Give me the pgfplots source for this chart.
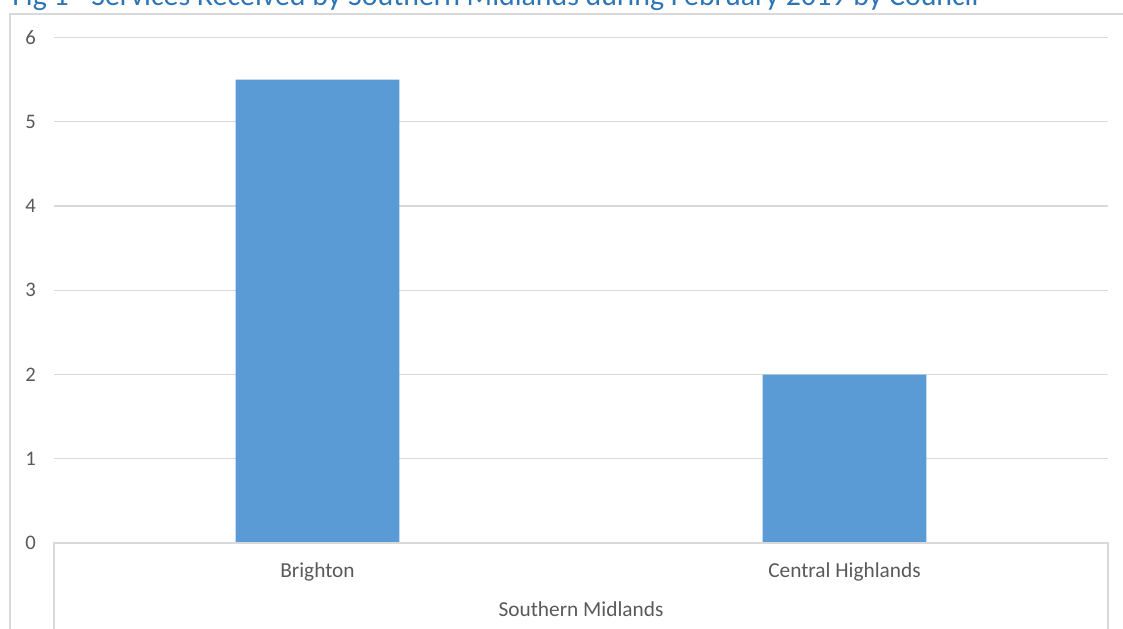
\documentclass[border=0pt]{standalone}
\usepackage{pgfplots}
\pgfplotsset{compat=1.18}
\usepackage{fontspec}
\setmainfont{Carlito}
\definecolor{barblue}{RGB}{91,155,213}
\definecolor{gridgray}{RGB}{217,217,217}
\definecolor{ticktext}{RGB}{89,89,89}
\definecolor{titleblue}{RGB}{46,117,182}

\begin{document}
\begin{tikzpicture}
\useasboundingbox (0pt,0pt) rectangle (842.25pt,471pt);
% chart title and outer frame, cut at the page edge
\begin{scope}
  \clip (0pt,0pt) rectangle (842.25pt,471pt);
  \node[anchor=base west, text=titleblue, font=\fontsize{22.4}{24}\selectfont, inner sep=0pt]
    at (9pt,466.5pt) {Fig 1 - Services Received by Southern Midlands during February 2019 by Council};
  \draw[gridgray, line width=1.1pt] (7.5pt,-4pt) -- (7.5pt,460.5pt) -- (850pt,460.5pt);
\end{scope}
\begin{axis}[
  at={(40.5pt,63.75pt)}, anchor=south west,
  scale only axis,
  width=790.5pt, height=379.125pt,
  xmin=0, xmax=2, ymin=0, ymax=6,
  ytick={0,1,2,3,4,5,6},
  xtick={0.5,1.5},
  xticklabels={Brighton, Central Highlands},
  axis line style={draw=none},
  major tick length=0pt,
  ymajorgrids,
  grid style={gridgray, line width=0.9pt},
  /pgf/number format/assume math mode=true,
  tick label style={font=\fontsize{15.5}{17}\selectfont, text=ticktext},
  yticklabel style={anchor=east, inner sep=0pt, xshift=-13.5pt},
  xticklabel style={anchor=base, inner sep=0pt, yshift=-25.5pt, font=\fontsize{16}{18}\selectfont},
  xlabel={Southern Midlands},
  xlabel style={font=\fontsize{16}{18}\selectfont, text=ticktext, anchor=base, inner sep=0pt,
    at={(axis description cs:0.5,0)}, yshift=-54.75pt},
  clip=false,
]
\addplot[ybar, fill=barblue, draw=none, bar width=0.311] coordinates {(0.5,5.5) (1.5,2)};
\end{axis}
% category axis box below the plot area
\draw[gridgray, line width=1.1pt] (40.5pt,-2pt) -- (40.5pt,63.75pt) -- (831pt,63.75pt) -- (831pt,-2pt);
\end{tikzpicture}
\end{document}
